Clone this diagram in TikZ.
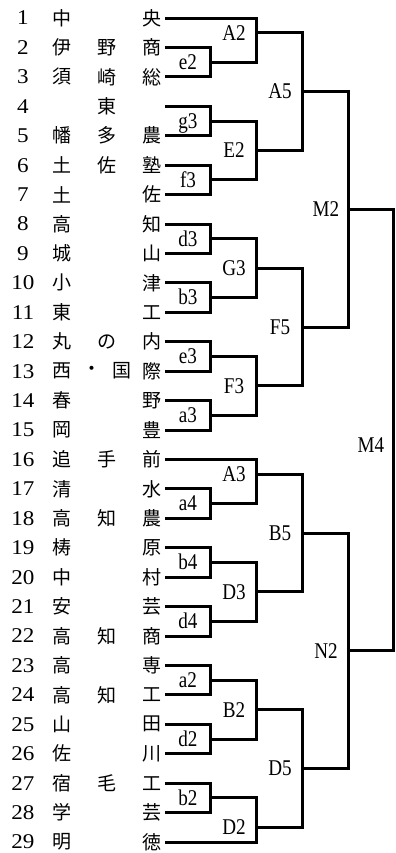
\documentclass[tikz,border=0pt]{standalone}
\usepackage{fontspec}
\newfontfamily\jpfont{Noto Sans CJK JP}
\newfontfamily\numfont[FakeStretch=1.1]{Liberation Serif}
\newfontfamily\gamefont[FakeStretch=0.85]{Liberation Serif}
\tikzset{
	team/.style={font=\jpfont\fontsize{19}{19}\selectfont, inner sep=0pt},
	num/.style={font=\numfont\fontsize{21}{21}\selectfont, inner sep=0pt, text depth=0pt},
	game/.style={font=\gamefont\fontsize{22.5}{22.5}\selectfont, inner sep=0pt, text height=14.8pt, text depth=0pt},
	bracket/.style={line width=3pt, line join=miter}
}
\begin{document}
\begin{tikzpicture}[x=1pt, y=-29.43pt]
		\useasboundingbox ( 0, 0.388 ) rectangle ( 396, 29.373 );

		% команды
		\node [num] (no1) at ( 23, 1 ) {1}; \node [team] (p1-1) at ( 62, 1 ) {中}; \node [team] (p1-3) at ( 152, 1 ) {央}; \coordinate (t1) at ( 165, 1 );
		\node [num] (no2) at ( 23, 2 ) {2}; \node [team] (p2-1) at ( 62, 2 ) {伊}; \node [team] (p2-2) at ( 107, 2 ) {野}; \node [team] (p2-3) at ( 152, 2 ) {商}; \coordinate (t2) at ( 165, 2 );
		\node [num] (no3) at ( 23, 3 ) {3}; \node [team] (p3-1) at ( 62, 3 ) {須}; \node [team] (p3-2) at ( 107, 3 ) {崎}; \node [team] (p3-3) at ( 152, 3 ) {総}; \coordinate (t3) at ( 165, 3 );
		\node [num] (no4) at ( 23, 4 ) {4}; \node [team] (p4-2) at ( 107, 4 ) {東}; \coordinate (t4) at ( 165, 4 );
		\node [num] (no5) at ( 23, 5 ) {5}; \node [team] (p5-1) at ( 62, 5 ) {幡}; \node [team] (p5-2) at ( 107, 5 ) {多}; \node [team] (p5-3) at ( 152, 5 ) {農}; \coordinate (t5) at ( 165, 5 );
		\node [num] (no6) at ( 23, 6 ) {6}; \node [team] (p6-1) at ( 62, 6 ) {土}; \node [team] (p6-2) at ( 107, 6 ) {佐}; \node [team] (p6-3) at ( 152, 6 ) {塾}; \coordinate (t6) at ( 165, 6 );
		\node [num] (no7) at ( 23, 7 ) {7}; \node [team] (p7-1) at ( 62, 7 ) {土}; \node [team] (p7-3) at ( 152, 7 ) {佐}; \coordinate (t7) at ( 165, 7 );
		\node [num] (no8) at ( 23, 8 ) {8}; \node [team] (p8-1) at ( 62, 8 ) {高}; \node [team] (p8-3) at ( 152, 8 ) {知}; \coordinate (t8) at ( 165, 8 );
		\node [num] (no9) at ( 23, 9 ) {9}; \node [team] (p9-1) at ( 62, 9 ) {城}; \node [team] (p9-3) at ( 152, 9 ) {山}; \coordinate (t9) at ( 165, 9 );
		\node [num] (no10) at ( 23, 10 ) {10}; \node [team] (p10-1) at ( 62, 10 ) {小}; \node [team] (p10-3) at ( 152, 10 ) {津}; \coordinate (t10) at ( 165, 10 );
		\node [num] (no11) at ( 23, 11 ) {11}; \node [team] (p11-1) at ( 62, 11 ) {東}; \node [team] (p11-3) at ( 152, 11 ) {工}; \coordinate (t11) at ( 165, 11 );
		\node [num] (no12) at ( 23, 12 ) {12}; \node [team] (p12-1) at ( 62, 12 ) {丸}; \node [team] (p12-2) at ( 107, 12 ) {の}; \node [team] (p12-3) at ( 152, 12 ) {内}; \coordinate (t12) at ( 165, 12 );
		\node [num] (no13) at ( 23, 13 ) {13}; \node [team] (p13-1) at ( 62, 13 ) {西}; \node [team] (p13-2) at ( 92, 13 ) {・}; \node [team] (p13-4) at ( 122, 13 ) {国}; \node [team] (p13-3) at ( 152, 13 ) {際}; \coordinate (t13) at ( 165, 13 );
		\node [num] (no14) at ( 23, 14 ) {14}; \node [team] (p14-1) at ( 62, 14 ) {春}; \node [team] (p14-3) at ( 152, 14 ) {野}; \coordinate (t14) at ( 165, 14 );
		\node [num] (no15) at ( 23, 15 ) {15}; \node [team] (p15-1) at ( 62, 15 ) {岡}; \node [team] (p15-3) at ( 152, 15 ) {豊}; \coordinate (t15) at ( 165, 15 );
		\node [num] (no16) at ( 23, 16 ) {16}; \node [team] (p16-1) at ( 62, 16 ) {追}; \node [team] (p16-2) at ( 107, 16 ) {手}; \node [team] (p16-3) at ( 152, 16 ) {前}; \coordinate (t16) at ( 165, 16 );
		\node [num] (no17) at ( 23, 17 ) {17}; \node [team] (p17-1) at ( 62, 17 ) {清}; \node [team] (p17-3) at ( 152, 17 ) {水}; \coordinate (t17) at ( 165, 17 );
		\node [num] (no18) at ( 23, 18 ) {18}; \node [team] (p18-1) at ( 62, 18 ) {高}; \node [team] (p18-2) at ( 107, 18 ) {知}; \node [team] (p18-3) at ( 152, 18 ) {農}; \coordinate (t18) at ( 165, 18 );
		\node [num] (no19) at ( 23, 19 ) {19}; \node [team] (p19-1) at ( 62, 19 ) {梼}; \node [team] (p19-3) at ( 152, 19 ) {原}; \coordinate (t19) at ( 165, 19 );
		\node [num] (no20) at ( 23, 20 ) {20}; \node [team] (p20-1) at ( 62, 20 ) {中}; \node [team] (p20-3) at ( 152, 20 ) {村}; \coordinate (t20) at ( 165, 20 );
		\node [num] (no21) at ( 23, 21 ) {21}; \node [team] (p21-1) at ( 62, 21 ) {安}; \node [team] (p21-3) at ( 152, 21 ) {芸}; \coordinate (t21) at ( 165, 21 );
		\node [num] (no22) at ( 23, 22 ) {22}; \node [team] (p22-1) at ( 62, 22 ) {高}; \node [team] (p22-2) at ( 107, 22 ) {知}; \node [team] (p22-3) at ( 152, 22 ) {商}; \coordinate (t22) at ( 165, 22 );
		\node [num] (no23) at ( 23, 23 ) {23}; \node [team] (p23-1) at ( 62, 23 ) {高}; \node [team] (p23-3) at ( 152, 23 ) {専}; \coordinate (t23) at ( 165, 23 );
		\node [num] (no24) at ( 23, 24 ) {24}; \node [team] (p24-1) at ( 62, 24 ) {高}; \node [team] (p24-2) at ( 107, 24 ) {知}; \node [team] (p24-3) at ( 152, 24 ) {工}; \coordinate (t24) at ( 165, 24 );
		\node [num] (no25) at ( 23, 25 ) {25}; \node [team] (p25-1) at ( 62, 25 ) {山}; \node [team] (p25-3) at ( 152, 25 ) {田}; \coordinate (t25) at ( 165, 25 );
		\node [num] (no26) at ( 23, 26 ) {26}; \node [team] (p26-1) at ( 62, 26 ) {佐}; \node [team] (p26-3) at ( 152, 26 ) {川}; \coordinate (t26) at ( 165, 26 );
		\node [num] (no27) at ( 23, 27 ) {27}; \node [team] (p27-1) at ( 62, 27 ) {宿}; \node [team] (p27-2) at ( 107, 27 ) {毛}; \node [team] (p27-3) at ( 152, 27 ) {工}; \coordinate (t27) at ( 165, 27 );
		\node [num] (no28) at ( 23, 28 ) {28}; \node [team] (p28-1) at ( 62, 28 ) {学}; \node [team] (p28-3) at ( 152, 28 ) {芸}; \coordinate (t28) at ( 165, 28 );
		\node [num] (no29) at ( 23, 29 ) {29}; \node [team] (p29-1) at ( 62, 29 ) {明}; \node [team] (p29-3) at ( 152, 29 ) {徳}; \coordinate (t29) at ( 165, 29 );

		% первый круг
		\coordinate (e2) at ( 211, 2.5 );  \node [game] (l-e2) at ( 188, 2.5 ) {e2};  \draw [bracket] (t2) -| (e2) |- (t3);
		\coordinate (g3) at ( 211, 4.5 );  \node [game] (l-g3) at ( 188, 4.5 ) {g3};  \draw [bracket] (t4) -| (g3) |- (t5);
		\coordinate (f3) at ( 211, 6.5 );  \node [game] (l-f3) at ( 188, 6.5 ) {f3};  \draw [bracket] (t6) -| (f3) |- (t7);
		\coordinate (d3) at ( 211, 8.5 );  \node [game] (l-d3) at ( 188, 8.5 ) {d3};  \draw [bracket] (t8) -| (d3) |- (t9);
		\coordinate (b3) at ( 211, 10.5 ); \node [game] (l-b3) at ( 188, 10.5 ) {b3}; \draw [bracket] (t10) -| (b3) |- (t11);
		\coordinate (e3) at ( 211, 12.5 ); \node [game] (l-e3) at ( 188, 12.5 ) {e3}; \draw [bracket] (t12) -| (e3) |- (t13);
		\coordinate (a3) at ( 211, 14.5 ); \node [game] (l-a3) at ( 188, 14.5 ) {a3}; \draw [bracket] (t14) -| (a3) |- (t15);
		\coordinate (a4) at ( 211, 17.5 ); \node [game] (l-a4) at ( 188, 17.5 ) {a4}; \draw [bracket] (t17) -| (a4) |- (t18);
		\coordinate (b4) at ( 211, 19.5 ); \node [game] (l-b4) at ( 188, 19.5 ) {b4}; \draw [bracket] (t19) -| (b4) |- (t20);
		\coordinate (d4) at ( 211, 21.5 ); \node [game] (l-d4) at ( 188, 21.5 ) {d4}; \draw [bracket] (t21) -| (d4) |- (t22);
		\coordinate (a2) at ( 211, 23.5 ); \node [game] (l-a2) at ( 188, 23.5 ) {a2}; \draw [bracket] (t23) -| (a2) |- (t24);
		\coordinate (d2) at ( 211, 25.5 ); \node [game] (l-d2) at ( 188, 25.5 ) {d2}; \draw [bracket] (t25) -| (d2) |- (t26);
		\coordinate (b2) at ( 211, 27.5 ); \node [game] (l-b2) at ( 188, 27.5 ) {b2}; \draw [bracket] (t27) -| (b2) |- (t28);

		% второй круг
		\coordinate (A2) at ( 257, 1.5 );  \node [game] (l-A2) at ( 234, 1.5 ) {A2};  \draw [bracket] (t1) -| (A2) |- (e2);
		\coordinate (E2) at ( 257, 5.5 );  \node [game] (l-E2) at ( 234, 5.5 ) {E2};  \draw [bracket] (g3) -| (E2) |- (f3);
		\coordinate (G3) at ( 257, 9.5 );  \node [game] (l-G3) at ( 234, 9.5 ) {G3};  \draw [bracket] (d3) -| (G3) |- (b3);
		\coordinate (F3) at ( 257, 13.5 ); \node [game] (l-F3) at ( 234, 13.5 ) {F3}; \draw [bracket] (e3) -| (F3) |- (a3);
		\coordinate (A3) at ( 257, 16.5 ); \node [game] (l-A3) at ( 234, 16.5 ) {A3}; \draw [bracket] (t16) -| (A3) |- (a4);
		\coordinate (D3) at ( 257, 20.5 ); \node [game] (l-D3) at ( 234, 20.5 ) {D3}; \draw [bracket] (b4) -| (D3) |- (d4);
		\coordinate (B2) at ( 257, 24.5 ); \node [game] (l-B2) at ( 234, 24.5 ) {B2}; \draw [bracket] (a2) -| (B2) |- (d2);
		\coordinate (D2) at ( 257, 28.5 ); \node [game] (l-D2) at ( 234, 28.5 ) {D2}; \draw [bracket] (b2) -| (D2) |- (t29);

		% третий круг
		\coordinate (A5) at ( 303, 3.5 );  \node [game] (l-A5) at ( 280, 3.5 ) {A5};  \draw [bracket] (A2) -| (A5) |- (E2);
		\coordinate (F5) at ( 303, 11.5 ); \node [game] (l-F5) at ( 280, 11.5 ) {F5}; \draw [bracket] (G3) -| (F5) |- (F3);
		\coordinate (B5) at ( 303, 18.5 ); \node [game] (l-B5) at ( 280, 18.5 ) {B5}; \draw [bracket] (A3) -| (B5) |- (D3);
		\coordinate (D5) at ( 303, 26.5 ); \node [game] (l-D5) at ( 280, 26.5 ) {D5}; \draw [bracket] (B2) -| (D5) |- (D2);

		% полуфинал и финал
		\coordinate (M2) at ( 349, 7.5 );  \node [game] (l-M2) at ( 326, 7.5 ) {M2};  \draw [bracket] (A5) -| (M2) |- (F5);
		\coordinate (N2) at ( 349, 22.5 ); \node [game] (l-N2) at ( 326, 22.5 ) {N2}; \draw [bracket] (B5) -| (N2) |- (D5);
		\coordinate (M4) at ( 394, 15 );   \node [game] (l-M4) at ( 371, 15.5 ) {M4}; \draw [bracket] (M2) -| (M4) |- (N2);
	\end{tikzpicture}
\end{document}
